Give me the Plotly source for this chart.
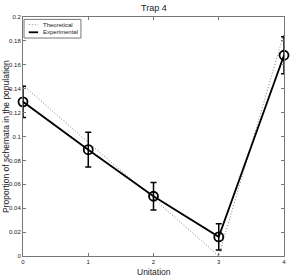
import plotly.graph_objects as go

unitation = [0, 1, 2, 3, 4]
theoretical = [0.143, 0.095, 0.048, 0.0, 0.186]
experimental = [0.129, 0.089, 0.050, 0.016, 0.168]
exp_error = [0.013, 0.0145, 0.0115, 0.011, 0.0155]
x_ticks = [0, 1, 2, 3, 4]
y_ticks = [0, 0.02, 0.04, 0.06, 0.08, 0.1, 0.12, 0.14, 0.16, 0.18, 0.2]
y_tick_text = ["0", "0.02", "0.04", "0.06", "0.08", "0.1", "0.12", "0.14", "0.16", "0.18", "0.2"]

FONT = "Liberation Sans, Arial"
TXT = "#222222"
DOT = dict(color="#808080", width=1, dash="1px,2px")

fig = go.Figure()
fig.add_trace(go.Scatter(
    x=unitation, y=theoretical, mode="lines", name="Theoretical",
    line=DOT, showlegend=False))
fig.add_trace(go.Scatter(
    x=unitation, y=experimental, mode="lines+markers", name="Experimental",
    line=dict(color="black", width=1.8),
    marker=dict(symbol="circle-open", size=9, color="black", line=dict(width=1.8)),
    error_y=dict(type="data", array=exp_error, color="black", thickness=1.5, width=3),
    showlegend=False, cliponaxis=False))

axis_common = dict(showline=True, linecolor="#777777", linewidth=1, mirror="ticks",
                   ticks="inside", ticklen=3, tickcolor="#777777", showgrid=False,
                   zeroline=False, automargin=False,
                   tickfont=dict(family=FONT, size=6, color=TXT))

fig.update_layout(
    width=291, height=277,
    margin=dict(l=23, r=7, t=17, b=21),
    paper_bgcolor="white", plot_bgcolor="white",
    xaxis=dict(range=[0, 4], tickvals=x_ticks, **axis_common),
    yaxis=dict(range=[0, 0.2], tickvals=y_ticks, ticktext=y_tick_text, **axis_common),
    showlegend=False,
)

# title and axis titles
fig.add_annotation(text="Trap 4", xref="paper", yref="paper", x=0.5, y=1,
                   yshift=9, showarrow=False, font=dict(family=FONT, size=9, color=TXT),
                   xanchor="center", yanchor="middle")
fig.add_annotation(text="Unitation", xref="paper", yref="paper", x=0.5, y=0,
                   yshift=-16, showarrow=False, font=dict(family=FONT, size=8.5, color=TXT),
                   xanchor="center", yanchor="middle")
fig.add_annotation(text="Proportion of schemata in the population", xref="paper", yref="paper",
                   x=0, y=0.5, xshift=-17.5, textangle=-90, showarrow=False,
                   font=dict(family=FONT, size=8.5, color=TXT),
                   xanchor="center", yanchor="middle")

# manual compact legend (MATLAB style)
x0, x1 = 0.004, 0.222
y0, y1 = 0.912, 0.990
fig.add_shape(type="rect", xref="paper", yref="paper", x0=x0, x1=x1, y0=y0, y1=y1,
              line=dict(color="#777777", width=1), fillcolor="white", layer="above")
legend_items = [("Theoretical", DOT, 0.968),
                ("Experimental", dict(color="black", width=1.8), 0.936)]
for name, ln, yy in legend_items:
    fig.add_shape(type="line", xref="paper", yref="paper", x0=0.022, x1=0.058, y0=yy, y1=yy,
                  line=ln, layer="above")
    fig.add_annotation(text=name, xref="paper", yref="paper", x=0.068, y=yy,
                       showarrow=False, xanchor="left", yanchor="middle",
                       font=dict(family=FONT, size=6, color=TXT))

fig.write_html("out.html", config={"displayModeBar": False, "staticPlot": True},
               post_script="document.body.style.margin='0';document.body.style.overflow='hidden';")
